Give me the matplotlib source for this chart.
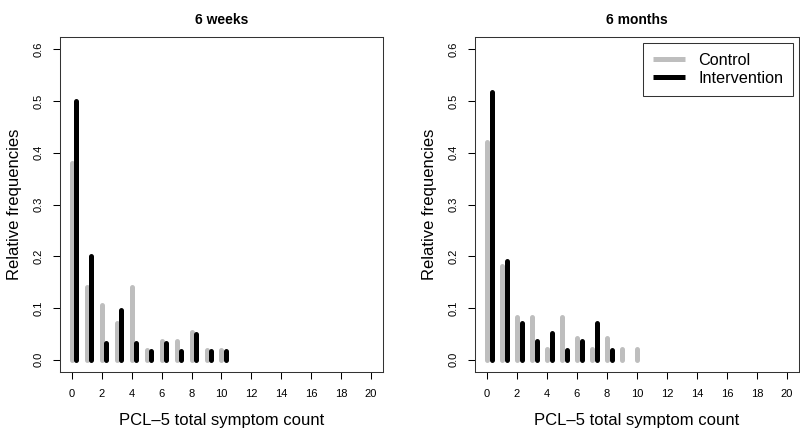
import matplotlib
matplotlib.use("Agg")
import matplotlib.pyplot as plt
import numpy as np

plt.rcParams['font.family'] = ['Liberation Sans', 'DejaVu Sans']

counts = list(range(0, 11))
x_ticks = list(range(0, 21, 2))
y_ticks = [0.0, 0.1, 0.2, 0.3, 0.4, 0.5, 0.6]

titles = ["6 weeks", "6 months"]
weeks_control = [0.38, 0.14, 0.105, 0.07, 0.14, 0.018, 0.035, 0.035, 0.053, 0.018, 0.018]
weeks_interv = [0.50, 0.20, 0.033, 0.095, 0.033, 0.016, 0.033, 0.016, 0.049, 0.016, 0.016]
months_control = [0.42, 0.182, 0.082, 0.082, 0.02, 0.082, 0.041, 0.02, 0.041, 0.02, 0.02]
months_interv = [0.517, 0.19, 0.07, 0.035, 0.052, 0.018, 0.035, 0.07, 0.018, 0.0, 0.0]

grey = '#BEBEBE'
lw = 3.6
offset = 0.3

fig = plt.figure(figsize=(8, 4.33), dpi=100)
W, H = 800, 433
positions = [(60, 37, 323, 335), (475, 37, 324, 335)]
data = [(weeks_control, weeks_interv), (months_control, months_interv)]

for i, ((x0, y0, w, h), (ctrl, intv)) in enumerate(zip(positions, data)):
    ax = fig.add_axes([x0 / W, (H - y0 - h) / H, w / W, h / H])
    xc = np.array(counts, dtype=float)
    for xv, v in zip(xc, ctrl):
        if v > 0:
            ax.plot([xv, xv], [0, v], color=grey, lw=lw, solid_capstyle='round')
    for xv, v in zip(xc + offset, intv):
        if v > 0:
            ax.plot([xv, xv], [0, v], color='black', lw=lw, solid_capstyle='round')
    ax.set_xlim(-0.8, 20.8)
    ax.set_ylim(-0.024, 0.624)
    ax.set_xticks(x_ticks)
    ax.set_yticks(y_ticks)
    ax.set_yticklabels([f"{t:.1f}" for t in y_ticks], rotation=90, va='center')
    ax.tick_params(axis='both', labelsize=8, length=5, width=0.75, colors='black', pad=7)
    for s in ax.spines.values():
        s.set_linewidth(0.75)
        s.set_color('#333333')
    ax.set_xlabel("PCL\u20135 total symptom count", fontsize=12, labelpad=10)
    ax.set_ylabel("Relative frequencies", fontsize=12, labelpad=8)
    fig.text((x0 + w / 2) / W, 1 - 20 / H, titles[i], ha='center', va='center',
             fontsize=10, fontweight='bold')
    if i == 1:
        h1, = ax.plot([], [], color=grey, lw=lw, solid_capstyle='butt')
        h2, = ax.plot([], [], color='black', lw=lw, solid_capstyle='butt')
        leg = ax.legend([h1, h2], ["Control", "Intervention"], loc='upper right',
                        fontsize=11.7, frameon=True, fancybox=False,
                        handlelength=2.0, handletextpad=0.8, labelspacing=0.2,
                        borderpad=0.6, borderaxespad=0.37)
        leg.get_frame().set_edgecolor('black')
        leg.get_frame().set_linewidth(0.75)

fig.savefig("out.png", dpi=100)
